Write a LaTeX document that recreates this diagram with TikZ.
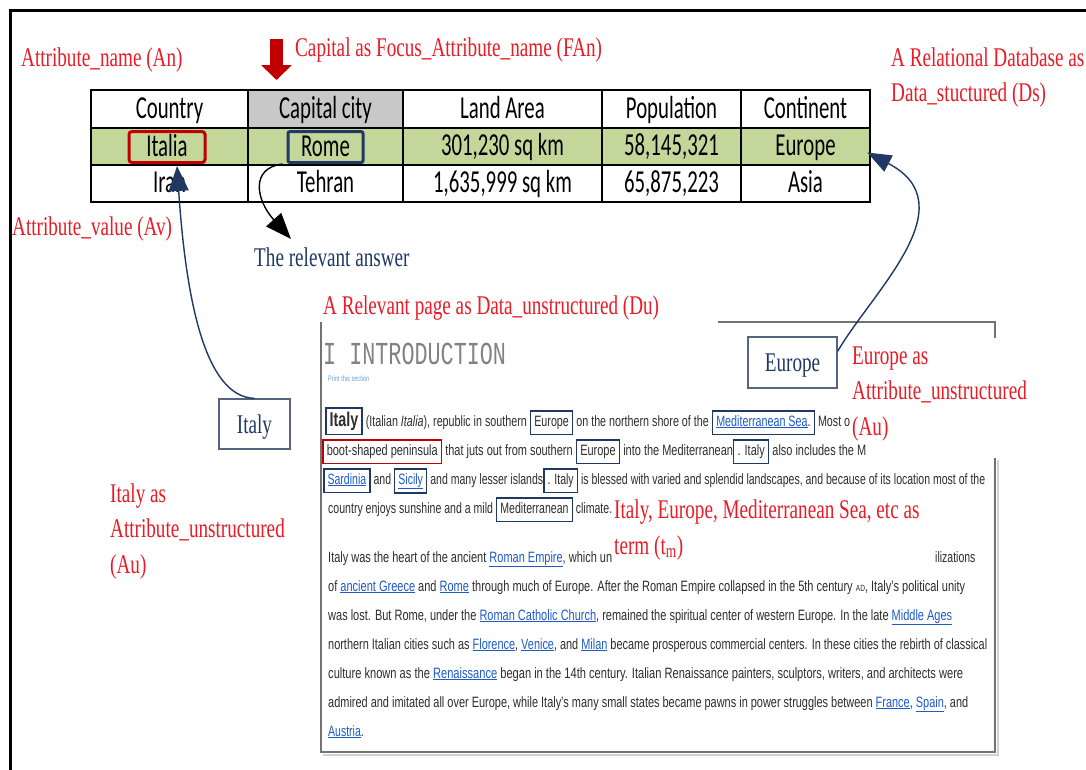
\documentclass[tikz,border=0pt]{standalone}
\usepackage{fontspec}
\usepackage{graphicx}
\usetikzlibrary{arrows.meta,calc}
\setmainfont{Liberation Serif}
\newfontfamily\lblfont[FakeStretch=0.71]{Liberation Serif}
\newfontfamily\tabfont[FakeStretch=0.65]{Carlito}
\newfontfamily\bodyfont[FakeStretch=0.7]{Liberation Sans}
\newfontfamily\intromono[FakeStretch=0.68]{Liberation Mono}
\definecolor{lblred}{RGB}{232,28,38}
\definecolor{dred}{RGB}{192,0,0}
\definecolor{navy}{RGB}{31,56,100}
\definecolor{boxnavy}{RGB}{85,100,130}
\definecolor{hdrgray}{RGB}{200,200,200}
\definecolor{rowgreen}{RGB}{196,215,155}
\definecolor{linkblue}{RGB}{30,90,200}
\definecolor{lightlink}{RGB}{110,160,215}
\definecolor{framegray}{RGB}{115,115,115}
\definecolor{pagetext}{RGB}{45,45,45}
\definecolor{introgray}{RGB}{130,130,130}
\newcommand\lk[1]{\textcolor{linkblue}{\underline{#1}}}
\newcommand\wb[1]{{\setlength\fboxsep{3pt}\setlength\fboxrule{1.4pt}\color{navy}\fbox{\color{pagetext}\strut #1}}}
\newcommand\rb[1]{{\setlength\fboxsep{3pt}\setlength\fboxrule{1.4pt}\color{dred}\fbox{\color{pagetext}\strut #1}}}
\newcommand\pl[2]{\resizebox{#1pt}{\height}{#2}}
\begin{document}
\begin{tikzpicture}[x=1pt,y=-1pt,
  lbl/.style={font=\lblfont\fontsize{27}{30}\selectfont, text=lblred, anchor=west, inner sep=0pt, text height=18pt, text depth=0pt},
  cell/.style={draw=black, line width=2.5pt, minimum height=37pt, inner sep=0pt, font=\tabfont\fontsize{32}{34}\selectfont, text height=20pt, text depth=2pt},
  inbox/.style={line width=3pt, minimum height=31pt, inner sep=0pt, font=\tabfont\fontsize{32}{34}\selectfont, text height=20pt, text depth=2pt},
  pline/.style={anchor=base west, inner sep=0pt, font=\bodyfont\fontsize{15}{16}\selectfont, text=pagetext},
  ubox/.style={draw=boxnavy, line width=1.3pt, inner sep=0pt, font=\lblfont\fontsize{27}{30}\selectfont, text=navy, text height=18pt, text depth=0pt},
  conn/.style={line width=1.4pt},
  pageframe/.style={draw=framegray, line width=2pt}]
\useasboundingbox (0,0) rectangle (1086,769);
\fill[white] (0,0) rectangle (1086,769);
% outer frame
\draw[line width=3pt] (1090,10) -- (10,10) -- (10,775);

% table
\node[cell, minimum width=157, minimum height=38] (h1) at (169.5,109) {Country};
\node[cell, minimum width=155, minimum height=38, fill=hdrgray] (h2) at (325.5,109) {Capital city};
\node[cell, minimum width=199, minimum height=38] (h3) at (502.5,109) {Land Area};
\node[cell, minimum width=139, minimum height=38] (h4) at (671.5,109) {Population};
\node[cell, minimum width=129, minimum height=38] (h5) at (805.5,109) {Continent};
\node[cell, minimum width=157, fill=rowgreen] (r1c1) at (169.5,146.5) {};
\node[cell, minimum width=155, fill=rowgreen] (r1c2) at (325.5,146.5) {};
\node[cell, minimum width=199, fill=rowgreen] (r1c3) at (502.5,146.5) {301,230 sq km};
\node[cell, minimum width=139, fill=rowgreen] (r1c4) at (671.5,146.5) {58,145,321};
\node[cell, minimum width=129, fill=rowgreen] (r1c5) at (805.5,146.5) {Europe};
\node[cell, minimum width=157] (r2c1) at (169.5,183.5) {Iran};
\node[cell, minimum width=155] (r2c2) at (325.5,183.5) {Tehran};
\node[cell, minimum width=199] (r2c3) at (502.5,183.5) {1,635,999 sq km};
\node[cell, minimum width=139] (r2c4) at (671.5,183.5) {65,875,223};
\node[cell, minimum width=129] (r2c5) at (805.5,183.5) {Asia};
\node[inbox, draw=dred, rounded corners=3pt, minimum width=76] (italia) at (167,147) {Italia};
\node[inbox, draw=navy, rounded corners=2pt, minimum width=75] (rome) at (325.5,147) {Rome};

% red block arrow
\coordinate (fanTail) at (276.5,39);
\coordinate (fanTip) at (276.5,80);
\draw[dred, line width=13pt, -{Triangle[width=30pt,length=15pt]}] (fanTail) -- (fanTip);

% labels
\node[lbl] (fan) at (295,47) {Capital as Focus\_Attribute\_name (FAn)};
\node[lbl] (an) at (21,57) {Attribute\_name (An)};
\node[lbl] (ds1) at (891,57) {A Relational Database as};
\node[lbl] (ds2) at (891,92) {Data\_stuctured (Ds)};
\node[lbl] (av) at (12,226) {Attribute\_value (Av)};
\node[lbl, text=navy] (answer) at (254,257) {The relevant answer};
\node[lbl] (du) at (323,305) {A Relevant page as Data\_unstructured (Du)};
\node[lbl] (itAu1) at (110,493) {Italy as};
\node[lbl] (itAu2) at (110,528) {Attribute\_unstructured};
\node[lbl] (itAu3) at (110,564) {(Au)};
\node[lbl] (euAu1) at (852,355) {Europe as};
\node[lbl] (euAu2) at (852,390) {Attribute\_unstructured};
\node[lbl] (euAu3) at (852,426) {(Au)};

% page frame
\draw[pageframe] (718,322) -- (995,322) -- (995,338);
\draw[gray!35, line width=2pt] (323,754.5) -- (997.5,754.5) -- (997.5,460);
\draw[pageframe] (321,322) -- (321,752) -- (995,752) -- (995,458);

% page content
\node[anchor=west, inner sep=0pt, font=\intromono\fontsize{32}{32}\selectfont, text=introgray, text height=18pt, text depth=0pt] (intro) at (323,355) {I INTRODUCTION};
\node[anchor=west, inner sep=0pt, font=\bodyfont\fontsize{8}{8}\selectfont, text=lightlink] (print) at (328,379) {Print this section};
\node[pline] (l1) at (325,426) {\pl{525}{\wb{\textbf{\fontsize{20}{16}\selectfont Italy}} (Italian \textit{Italia}), republic in southern \wb{Europe} on the northern shore of the \wb{\lk{Mediterranean Sea}.} Most o}};
\node[pline] (l2) at (322,455) {\pl{544}{\rb{boot-shaped peninsula} that juts out from southern \wb{Europe} into the Mediterranean\wb{. Italy} also includes the M}};
\node[pline] (l3) at (323,484) {\pl{662}{\wb{\lk{Sardinia}} and \wb{\lk{Sicily}} and many lesser islands\wb{. Italy} is blessed with varied and splendid landscapes, and because of its location most of the}};
\node[pline] (l4) at (328,513) {\pl{284}{country enjoys sunshine and a mild \wb{Mediterranean} climate.}};
\node[pline] (l5a) at (328,562) {\pl{284}{Italy was the heart of the ancient \lk{Roman Empire}, which un}};
\node[pline] (l5b) at (935,562) {ilizations};
\node[pline] (l6) at (328,591) {\pl{637}{of \lk{ancient Greece} and \lk{Rome} through much of Europe. After the Roman Empire collapsed in the 5th century {\fontsize{9}{9}\selectfont AD}, Italy’s political unity}};
\node[pline] (l7) at (328,620) {\pl{624}{was lost. But Rome, under the \lk{Roman Catholic Church}, remained the spiritual center of western Europe. In the late \lk{Middle Ages}}};
\node[pline] (l8) at (328,649) {\pl{659}{northern Italian cities such as \lk{Florence}, \lk{Venice}, and \lk{Milan} became prosperous commercial centers. In these cities the rebirth of classical}};
\node[pline] (l9) at (328,678) {\pl{635}{culture known as the \lk{Renaissance} began in the 14th century. Italian Renaissance painters, sculptors, writers, and architects were}};
\node[pline] (l10) at (328,707) {\pl{640}{admired and imitated all over Europe, while Italy’s many small states became pawns in power struggles between \lk{France}, \lk{Spain}, and}};
\node[pline] (l11) at (328,736) {\lk{Austria}.};

\node[lbl] (tm1) at (614,509) {Italy, Europe, Mediterranean Sea, etc as};
\node[lbl] (tm2) at (614,545) {term (t\textsubscript{m})};

% unstructured attribute boxes
\node[ubox, minimum width=71, minimum height=50] (italyBox) at (254.5,424) {Italy};
\node[ubox, minimum width=89, minimum height=51] (europeBox) at (792.5,362.5) {Europe};

% connectors
\coordinate (italiaTip) at ($(italia.south)+(10,2)$);
\coordinate (euTip) at ($(r1c5.east)+(-4,6)$);
\coordinate (ansTip) at (291,239);
\draw[conn, navy, -{Triangle[width=20pt,length=25pt]}] (italyBox.north) .. controls (205,397) and (186,300) .. (italiaTip);
\draw[conn, navy, -{Triangle[width=18pt,length=24pt]}] ($(europeBox.north east)+(0,15)$) .. controls (872,292) and (968,205) .. (euTip);
\draw[conn, black, -{Triangle[width=20pt,length=26pt]}] ($(rome.south west)+(-4,0)$) .. controls (250,168) and (256,200) .. (ansTip);
\end{tikzpicture}
\end{document}
